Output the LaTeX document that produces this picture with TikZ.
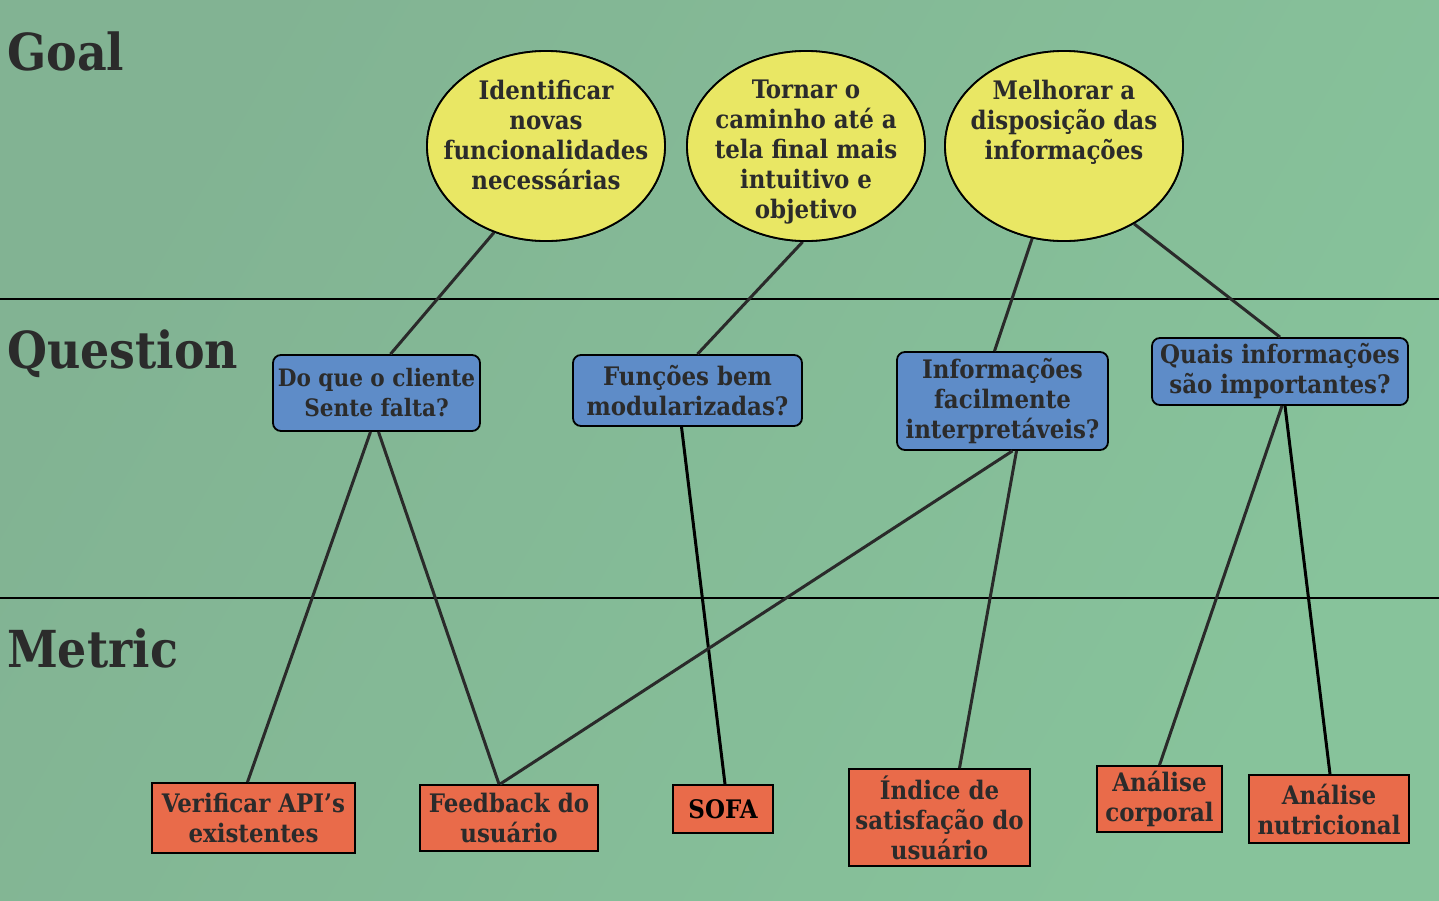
\documentclass[tikz,border=0pt]{standalone}
\usepackage{fontspec}
\setmainfont{DejaVu Serif Condensed}
\usetikzlibrary{calc,shapes.geometric}
\definecolor{bgA}{HTML}{82B393}
\definecolor{bgB}{HTML}{87C39B}
\definecolor{goalc}{HTML}{E9E764}
\definecolor{qc}{HTML}{5E8CC8}
\definecolor{mc}{HTML}{E96B4A}
\definecolor{txt}{HTML}{2B2B2B}
\definecolor{lnc}{HTML}{2A2A2A}
\tikzset{
  heading/.style={anchor=base west, font=\bfseries\fontsize{51}{60}\selectfont, text=txt, inner sep=0},
  goalnode/.style={ellipse, draw=black, line width=1.8pt, fill=goalc, minimum width=238, minimum height=190, inner sep=0},
  goaltext/.style={anchor=north, align=center, font=\bfseries\fontsize{25.5}{30}\selectfont, text=txt, inner sep=0},
  qnode/.style={rectangle, rounded corners=8, draw=black, line width=1.8pt, fill=qc, align=center, font=\bfseries\fontsize{25.5}{30}\selectfont, text=txt, inner sep=0},
  mnode/.style={rectangle, draw=black, line width=1.8pt, fill=mc, align=center, font=\bfseries\fontsize{25.5}{30}\selectfont, text=txt, inner sep=0},
  link/.style={draw=lnc, line width=3pt},
  sep/.style={draw=black, line width=2pt}
}
\begin{document}
\begin{tikzpicture}[x=1pt,y=-1pt]
\shade[left color=bgA, right color=bgB, shading angle=60] (0,0) rectangle (1439,900);
\useasboundingbox (0,0) rectangle (1439,900);
\coordinate (l1a) at (0,299); \coordinate (l1b) at (1439,299);
\coordinate (l2a) at (0,598); \coordinate (l2b) at (1439,598);
\draw[sep] (l1a) -- (l1b);
\draw[sep] (l2a) -- (l2b);
\node[heading] (hg) at (7,70) {Goal};
\node[heading] (hq) at (7,368) {Question};
\node[heading] (hm) at (7,667) {Metric};
% goals
\node[goalnode] (g1) at (546,146) {};
\node[goalnode] (g2) at (806,146) {};
\node[goalnode] (g3) at (1064,146) {};
% questions
\node[qnode, minimum width=207, minimum height=76, font=\bfseries\fontsize{24}{30}\selectfont] (q1) at (376.5,393) {Do que o cliente\\Sente falta?};
\node[qnode, minimum width=229, minimum height=71] (q2) at (687.5,390.5) {Funções bem\\modularizadas?};
\node[qnode, minimum width=211, minimum height=98] (q3) at (1002.5,401) {Informações\\facilmente\\interpretáveis?};
\node[qnode, minimum width=256, minimum height=67] (q4) at (1280,371.5) {Quais informações\\são importantes?};
% metrics
\node[mnode, minimum width=203, minimum height=70] (m1) at (253.5,818) {Verificar API’s\\existentes};
\node[mnode, minimum width=178, minimum height=66] (m2) at (509,818) {Feedback do\\usuário};
\node[mnode, minimum width=100, minimum height=48, text=black] (m3) at (723,809) {SOFA};
\node[mnode, minimum width=181, minimum height=97] (m4) at (939.5,817.5) {Índice de\\satisfação do\\usuário};
\node[mnode, minimum width=125, minimum height=66] (m5) at (1159.5,799) {Análise\\corporal};
\node[mnode, minimum width=160, minimum height=68] (m6) at (1329,809) {Análise\\nutricional};
% links
\draw[link] (g1.-121) -- ($(q1.north)+(14,0)$);
\draw[link] (g2.-92) -- ($(q2.north)+(10,0)$);
\draw[link] (g3.-109) -- ($(q3.north)+(-8,0)$);
\draw[link] (g3.-48) -- (q4.north);
\draw[link] ($(q1.south)+(-6,0)$) -- ($(m1.north)+(-6,0)$);
\draw[link] ($(q1.south)+(2,0)$) -- ($(m2.north)+(-10,0)$);
\draw[link, draw=black] ($(q2.south)+(-6,0)$) -- ($(m3.north)+(2,0)$);
\draw[link] ($(q3.south)+(10,0)$) -- ($(m2.north)+(-9,0)$);
\draw[link] ($(q3.south)+(14,0)$) -- ($(m4.north)+(20,0)$);
\draw[link] ($(q4.south)+(2,0)$) -- ($(m5.north)+(0,0)$);
\draw[link, draw=black] ($(q4.south)+(5,0)$) -- ($(m6.north)+(1,0)$);
% redraw goals over links
\node[goalnode] at (g1) {};
\node[goalnode] at (g2) {};
\node[goalnode] at (g3) {};
\node[goaltext] (t1) at (546,80) {Identificar\\novas\\funcionalidades\\necessárias};
\node[goaltext] (t2) at (806,80) {Tornar o\\caminho até a\\tela final mais\\intuitivo e\\objetivo};
\node[goaltext] (t3) at (1064,80) {Melhorar a\\disposição das\\informações};
\end{tikzpicture}
\end{document}
